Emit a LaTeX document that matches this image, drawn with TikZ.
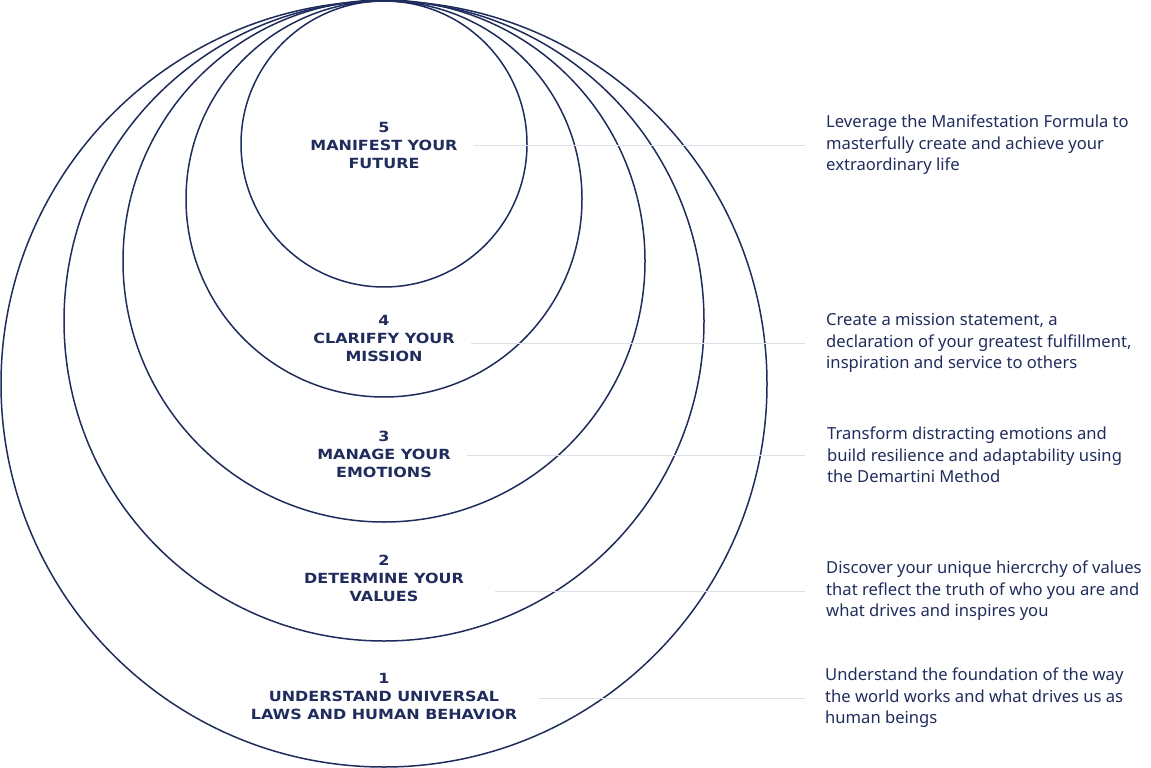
\documentclass[tikz,border=0pt]{standalone}
\usepackage{fontspec}
\setmainfont{Noto Sans}
\newfontfamily\headfont[FakeStretch=1.14]{DejaVu Sans}
\usepackage{tikz}
\usetikzlibrary{positioning, calc}
\definecolor{navy}{RGB}{32,44,92}
\definecolor{guidegray}{RGB}{221,224,234}

\begin{document}
\begin{tikzpicture}[
  x=1pt, y=-1pt,
  ring/.style={circle, draw=navy, line width=1.5pt, inner sep=0pt},
  stage/.style={font=\headfont\bfseries\fontsize{14}{18}\selectfont,
    text=navy, align=center, inner sep=0pt},
  desc/.style={font=\fontsize{16.6}{21.5}\selectfont, text=navy,
    align=left, anchor=west, inner sep=0pt},
  guide/.style={draw=guidegray, line width=1pt}
]
  \useasboundingbox (0,0) rectangle (1151,768);

  %% nested rings, all touching at the top
  \node[ring, minimum size=766] (ring1) at (384,384) {};
  \node[ring, minimum size=640] (ring2) at (384,321) {};
  \node[ring, minimum size=522] (ring3) at (384,261) {};
  \node[ring, minimum size=396] (ring4) at (384,199) {};
  \node[ring, minimum size=286] (ring5) at (384,144) {};

  %% stage titles
  \node[stage] (stage5) at (384,145) {5\\MANIFEST YOUR\\FUTURE};
  \node[stage] (stage4) at (384,338) {4\\CLARIFFY YOUR\\MISSION};
  \node[stage] (stage3) at (384,454) {3\\MANAGE YOUR\\EMOTIONS};
  \node[stage] (stage2) at (384,578) {2\\DETERMINE YOUR\\VALUES};
  \node[stage] (stage1) at (384,696) {1\\UNDERSTAND UNIVERSAL\\LAWS AND HUMAN BEHAVIOR};

  %% descriptions
  \node[desc] (desc5) at (826,145)
    {Leverage the Manifestation Formula to\\masterfully create and achieve your\\extraordinary life};
  \node[desc] (desc4) at (826,343)
    {Create a mission statement, a\\declaration of your greatest fulfillment,\\inspiration and service to others};
  \node[desc] (desc3) at (827,455)
    {Transform distracting emotions and\\build resilience and adaptability using\\the Demartini Method};
  \node[desc] (desc2) at (826,591)
    {Discover your unique hiercrchy of values\\that reflect the truth of who you are and\\what drives and inspires you};
  \node[desc] (desc1) at (825,698)
    {Understand the foundation of the way\\the world works and what drives us as\\human beings};

  %% guide lines
  \draw[guide] ([xshift=16]stage5.east |- desc5.west) -- ([xshift=-21]desc5.west);
  \draw[guide] ([xshift=16]stage4.east |- desc4.west) -- ([xshift=-21]desc4.west);
  \draw[guide] ([xshift=16]stage3.east |- desc3.west) -- ([xshift=-22]desc3.west);
  \draw[guide] ([xshift=31]stage2.east |- desc2.west) -- ([xshift=-21]desc2.west);
  \draw[guide] ([xshift=22]stage1.east |- desc1.west) -- ([xshift=-20]desc1.west);
\end{tikzpicture}
\end{document}
